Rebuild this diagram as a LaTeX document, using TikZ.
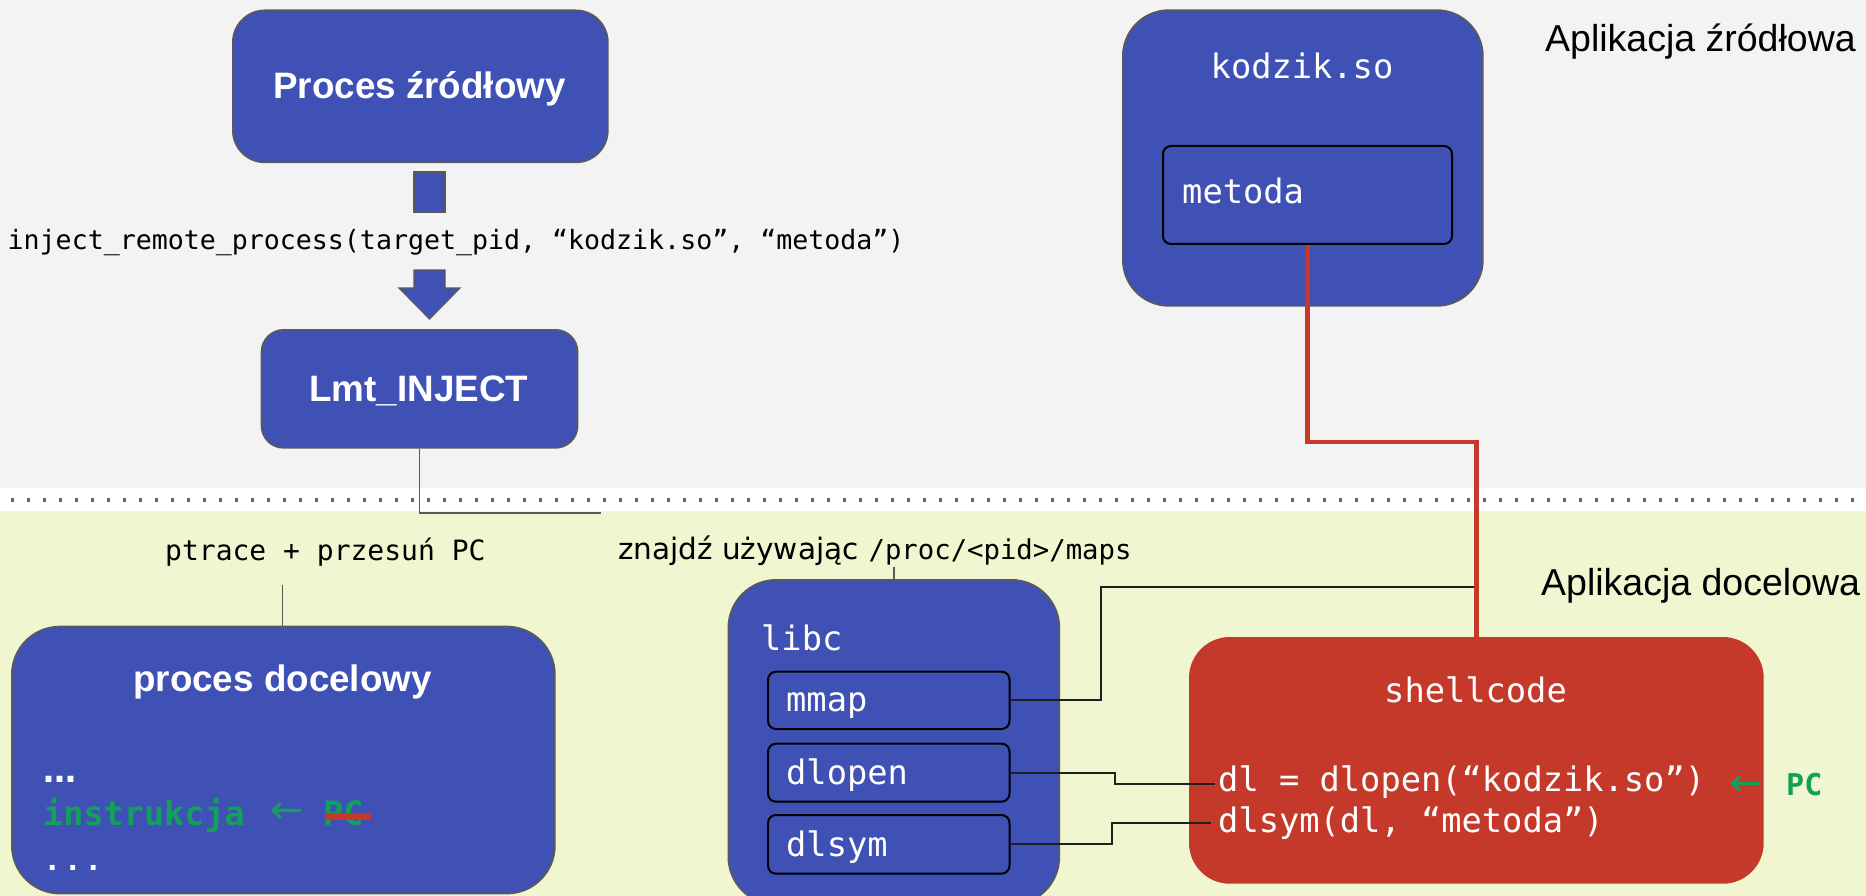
\documentclass[tikz,border=0pt]{standalone}
\usepackage{fontspec}
\setmainfont{Liberation Sans}
\newfontfamily\monofont{DejaVu Sans Mono}
\newfontfamily\monobfont{Liberation Mono}
\newfontfamily\dvsans{DejaVu Sans}
\definecolor{idx}{HTML}{3F51B5}
\definecolor{boxedge}{HTML}{5A5A5A}
\definecolor{shellred}{HTML}{C5392A}
\definecolor{bggray}{HTML}{F3F3F3}
\definecolor{bggreen}{HTML}{EFF6D0}
\definecolor{greenT}{HTML}{12A05A}
\definecolor{dotgray}{HTML}{666666}
\begin{document}
\begin{tikzpicture}[x=1pt,y=-1pt,
  box/.style={draw=boxedge, fill=idx, line width=1.7, inner sep=0, anchor=north west},
  ibox/.style={draw=black, fill=idx, line width=2, rounded corners=8, inner sep=0, anchor=north west},
  t/.style={inner sep=0, anchor=base west},
  tc/.style={inner sep=0, anchor=base},
  head/.style={tc, text=white, font=\bfseries\fontsize{36.8}{40}\selectfont},
  code/.style={t, text=white, font=\monofont\fontsize{33.7}{38}\selectfont},
  codec/.style={tc, text=white, font=\monofont\fontsize{33.7}{38}\selectfont},
  greencode/.style={t, text=greenT, font=\monofont\bfseries\fontsize{33.5}{38}\selectfont},
  garrow/.style={inner sep=0, text=greenT, font=\dvsans\fontsize{40}{40}\selectfont},
  arrowbox/.style={draw=boxedge, fill=idx, line width=1.2},
  wire/.style={draw=boxedge, line width=1.7},
  bwire/.style={draw=black!88, line width=2.2},
  rwire/.style={draw=shellred, line width=4.5},
  strike/.style={draw=shellred, line width=7},
  applabel/.style={t, font=\fontsize{37.5}{40}\selectfont}
]
\useasboundingbox (0,0) rectangle (1866,896);
\clip (0,0) rectangle (1866,896);
% backgrounds
\fill[bggray] (0,0) rectangle (1866,488);
\fill[white] (0,488) rectangle (1866,511);
\fill[bggreen] (0,511) rectangle (1866,896);
\draw[dotgray, line width=3.3, dash pattern=on 3.3pt off 12.7pt] (11,500) -- (1866,500);

% boxes
\node[box, rounded corners=32, minimum width=375, minimum height=152] (proc) at (232,9.5) {};
\node[box, rounded corners=22, minimum width=316, minimum height=118] (lmt) at (260.7,329) {};
\node[box, rounded corners=46, minimum width=360, minimum height=295.7] (kod) at (1122,9.3) {};
\node[ibox, minimum width=289, minimum height=98] (met) at (1162,145) {};
\node[box, rounded corners=48, minimum width=543, minimum height=267] (tgt) at (11,625.7) {};
\node[box, rounded corners=48, minimum width=331, minimum height=325] (libc) at (727.5,579) {};
\node[box, draw=shellred, fill=shellred, rounded corners=40, minimum width=573, minimum height=245] (shell) at (1189,637) {};
\node[ibox, minimum width=241.5, minimum height=57.3] (mmap) at (767,670.7) {};
\node[ibox, minimum width=241.5, minimum height=58] (dlopen) at (767,742.7) {};
\node[ibox, minimum width=241.5, minimum height=58.7] (dlsym) at (767,814) {};

% block arrow
\draw[arrowbox] (414,172) rectangle (445,212);
\draw[arrowbox] (414,270) -- (445,270) -- (445,288) -- (460,288) -- (429.5,319) -- (399,288) -- (414,288) -- cycle;

% texts
\node[head] (procT) at (419.5,98.3) {Proces źródłowy};
\node[head] (lmtT) at (418.7,401.7) {Lmt\_INJECT};
\node[head] (tgtT) at (282.5,691.7) {proces docelowy};
\node[codec] (kodT) at (1302,78.3) {kodzik.so};
\node[code] (metT) at (1182,203.3) {metoda};
\node[codec] (shellT) at (1475.5,702.7) {shellcode};
\node[code] (libcT) at (761,650) {libc};
\node[code] (mmapT) at (786,711.7) {mmap};
\node[code] (dlopenT) at (786,784) {dlopen};
\node[code] (dlsymT) at (786,856) {dlsym};
\node[code] (call1) at (1218,791) {dl = dlopen(“kodzik.so”)};
\node[code] (call2) at (1218,832) {dlsym(dl, “metoda”)};
\node[garrow] (pcarrR) at (1746,786) {←};
\node[t, text=greenT, font=\monofont\bfseries\fontsize{30}{34}\selectfont] (pcR) at (1786,795) {PC};

\node[t, text=white, font=\dvsans\bfseries\fontsize{33}{36}\selectfont] (dots1) at (43,782) {…};
\node[greencode] (instr) at (43,825) {instrukcja};
\node[garrow] (pcarrL) at (287,813) {←};
\node[greencode] (pcL) at (323,825) {PC};
\draw[strike] ([xshift=2pt,yshift=-3.5pt]pcL.west) -- ([xshift=7.7pt,yshift=-3.5pt]pcL.east);
\node[t, text=white, font=\monobfont\bfseries\fontsize{34}{38}\selectfont] (dots2) at (42,870) {...};

\node[t, font=\monofont\fontsize{26.6}{30}\selectfont] (inj) at (7.5,250) {inject\_remote\_process(target\_pid, “kodzik.so”, “metoda”)};
\node[t, font=\monofont\fontsize{28}{32}\selectfont] (ptr) at (165,560.7) {ptrace + przesuń PC};
\node[t] (znj) at (618,559.3) {{\dvsans\fontsize{29.5}{32}\selectfont znajdź używając}\hspace{10pt}{\monofont\fontsize{27.3}{30}\selectfont /proc/<pid>/maps}};
\node[applabel] (appS) at (1545,51.7) {Aplikacja źródłowa};
\node[applabel] (appD) at (1541,595) {Aplikacja docelowa};

% connectors
\coordinate (lmtEnd) at (601,513.3);
\draw[wire] (lmt.south) |- (lmtEnd);
\coordinate (ptrTop) at (282.6,585);
\draw[wire] (ptrTop) -- (ptrTop |- tgt.north);
\coordinate (znjB) at (894,567);
\draw[wire] (znjB) -- (znjB |- libc.north);
\coordinate (jn) at (1475.5,587);
\draw[bwire] (mmap.east) -- ++(90.5,0) |- (jn);
\draw[bwire] (dlopen.east) -- ++(104.5,0) |- ([xshift=-3pt,yshift=7pt]call1.base west);
\draw[bwire] (dlsym.east) -- ++(101.5,0) |- ([xshift=-7pt,yshift=9.3pt]call2.base west);
\draw[rwire] (met.south) -- ++(0,197) -| (shell.north);
\end{tikzpicture}
\end{document}
